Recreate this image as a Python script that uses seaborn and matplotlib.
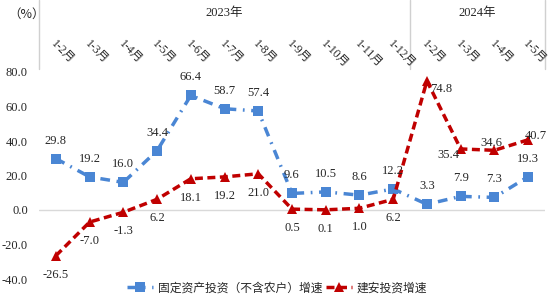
import matplotlib
matplotlib.use("Agg")
import matplotlib.pyplot as plt
import seaborn as sns
import pandas as pd

# ---- data ----
categories = ["1-2月", "1-3月", "1-4月", "1-5月", "1-6月", "1-7月", "1-8月", "1-9月",
              "1-10月", "1-11月", "1-12月", "1-2月", "1-3月", "1-4月", "1-5月"]
years = ["2023年", "2024年"]
year_counts = [11, 4]
fixed_invest = [29.8, 19.2, 16.0, 34.4, 66.4, 58.7, 57.4, 9.6, 10.5, 8.6, 12.2, 3.3, 7.9, 7.3, 19.3]
construct_invest = [-26.5, -7.0, -1.3, 6.2, 18.1, 19.2, 21.0, 0.5, 0.1, 1.0, 6.2, 74.8, 35.4, 34.6, 40.7]
series_names = ["固定资产投资（不含农户）增速", "建安投资增速"]
y_ticks = [-40, -20, 0, 20, 40, 60, 80]

# label offsets in pixels (style only)
red_offsets = {11: (14, -8), 12: (-12, -6), 13: (-3, 7), 14: (8, 4)}

sns.set_theme(style="white")
plt.rcParams['font.family'] = ['Liberation Serif', 'Noto Sans CJK SC', 'DejaVu Sans']
cjk = ['Noto Sans CJK SC', 'DejaVu Sans']

BLUE = '#4A86D4'
RED = '#C00000'

n = len(categories)
df = pd.DataFrame({
    "idx": list(range(n)) * 2,
    "value": fixed_invest + construct_invest,
    "series": [series_names[0]] * n + [series_names[1]] * n,
})

fig = plt.figure(figsize=(5.54, 3.0), dpi=100)
ax = fig.add_axes([39 / 554, 21 / 300, 506 / 554, 207 / 300])

sns.lineplot(data=df, x="idx", y="value", hue="series", style="series",
             palette=[BLUE, RED], markers=["s", "^"],
             dashes=[(2.8, 1.9, 0.5, 1.9), (2.3, 1.3)], linewidth=2.5, markersize=6.5,
             markeredgewidth=0, ax=ax, legend=True)

ax.set_xlim(-0.5, n - 0.5)
ax.set_ylim(-40, 80)
ax.set_yticks(y_ticks)
ax.set_yticklabels([f"{v:.1f}" for v in y_ticks], fontsize=9, family='Liberation Serif')
ax.tick_params(axis='y', length=0, pad=8)
ax.set_xticks([])
ax.set_xlabel("")
ax.set_ylabel("")
for s in ax.spines.values():
    s.set_visible(False)
ax.axhline(0, color='#D9D9D9', lw=1, zorder=0)

# data labels
for i, v in enumerate(fixed_invest):
    ax.annotate(f"{v:.1f}", (i, v), xytext=(0, 18), textcoords='offset pixels',
                ha='center', va='center', fontsize=9, family='Liberation Serif')
for i, v in enumerate(construct_invest):
    off = red_offsets.get(i, (0, -19))
    ax.annotate(f"{v:.1f}", (i, v), xytext=off, textcoords='offset pixels',
                ha='center', va='center', fontsize=9, family='Liberation Serif')

# category labels at top
for i, c in enumerate(categories):
    ax.annotate(c, (i, 1.0), xycoords=('data', 'axes fraction'), xytext=(-3, 30),
                textcoords='offset pixels', rotation=-45, rotation_mode='anchor',
                ha='left', va='center', fontsize=8.5, family=['Liberation Serif'] + cjk,
                annotation_clip=False)

# year groups and separators
start = 0
bounds = [-0.5]
for y, cnt in zip(years, year_counts):
    center = start + (cnt - 1) / 2
    ax.annotate(y, (center, 1.0), xycoords=('data', 'axes fraction'), xytext=(0, 59),
                textcoords='offset pixels', ha='center', va='center', fontsize=9,
                family=['Liberation Serif'] + cjk, annotation_clip=False)
    start += cnt
    bounds.append(start - 0.5)
trans = ax.get_xaxis_transform()
for b in bounds:
    ax.plot([b, b], [1.0 + 3 / 207, 1.0 + 72 / 207], color='#D0D0D0', lw=1,
            transform=trans, clip_on=False)

fig.text(8 / 554, 1 - 14 / 300, "（%）", fontsize=9, family=cjk, va='center', ha='left')

# legend
handles, labels = ax.get_legend_handles_labels()
ax.legend(handles, labels, loc='center', bbox_to_anchor=(0.5, (300 - 288) / 300),
          bbox_transform=fig.transFigure, ncol=2, frameon=False,
          prop={'family': cjk, 'size': 8.5}, handlelength=2.2, columnspacing=0.3,
          handletextpad=0.4)

fig.savefig("out.png", dpi=100)
